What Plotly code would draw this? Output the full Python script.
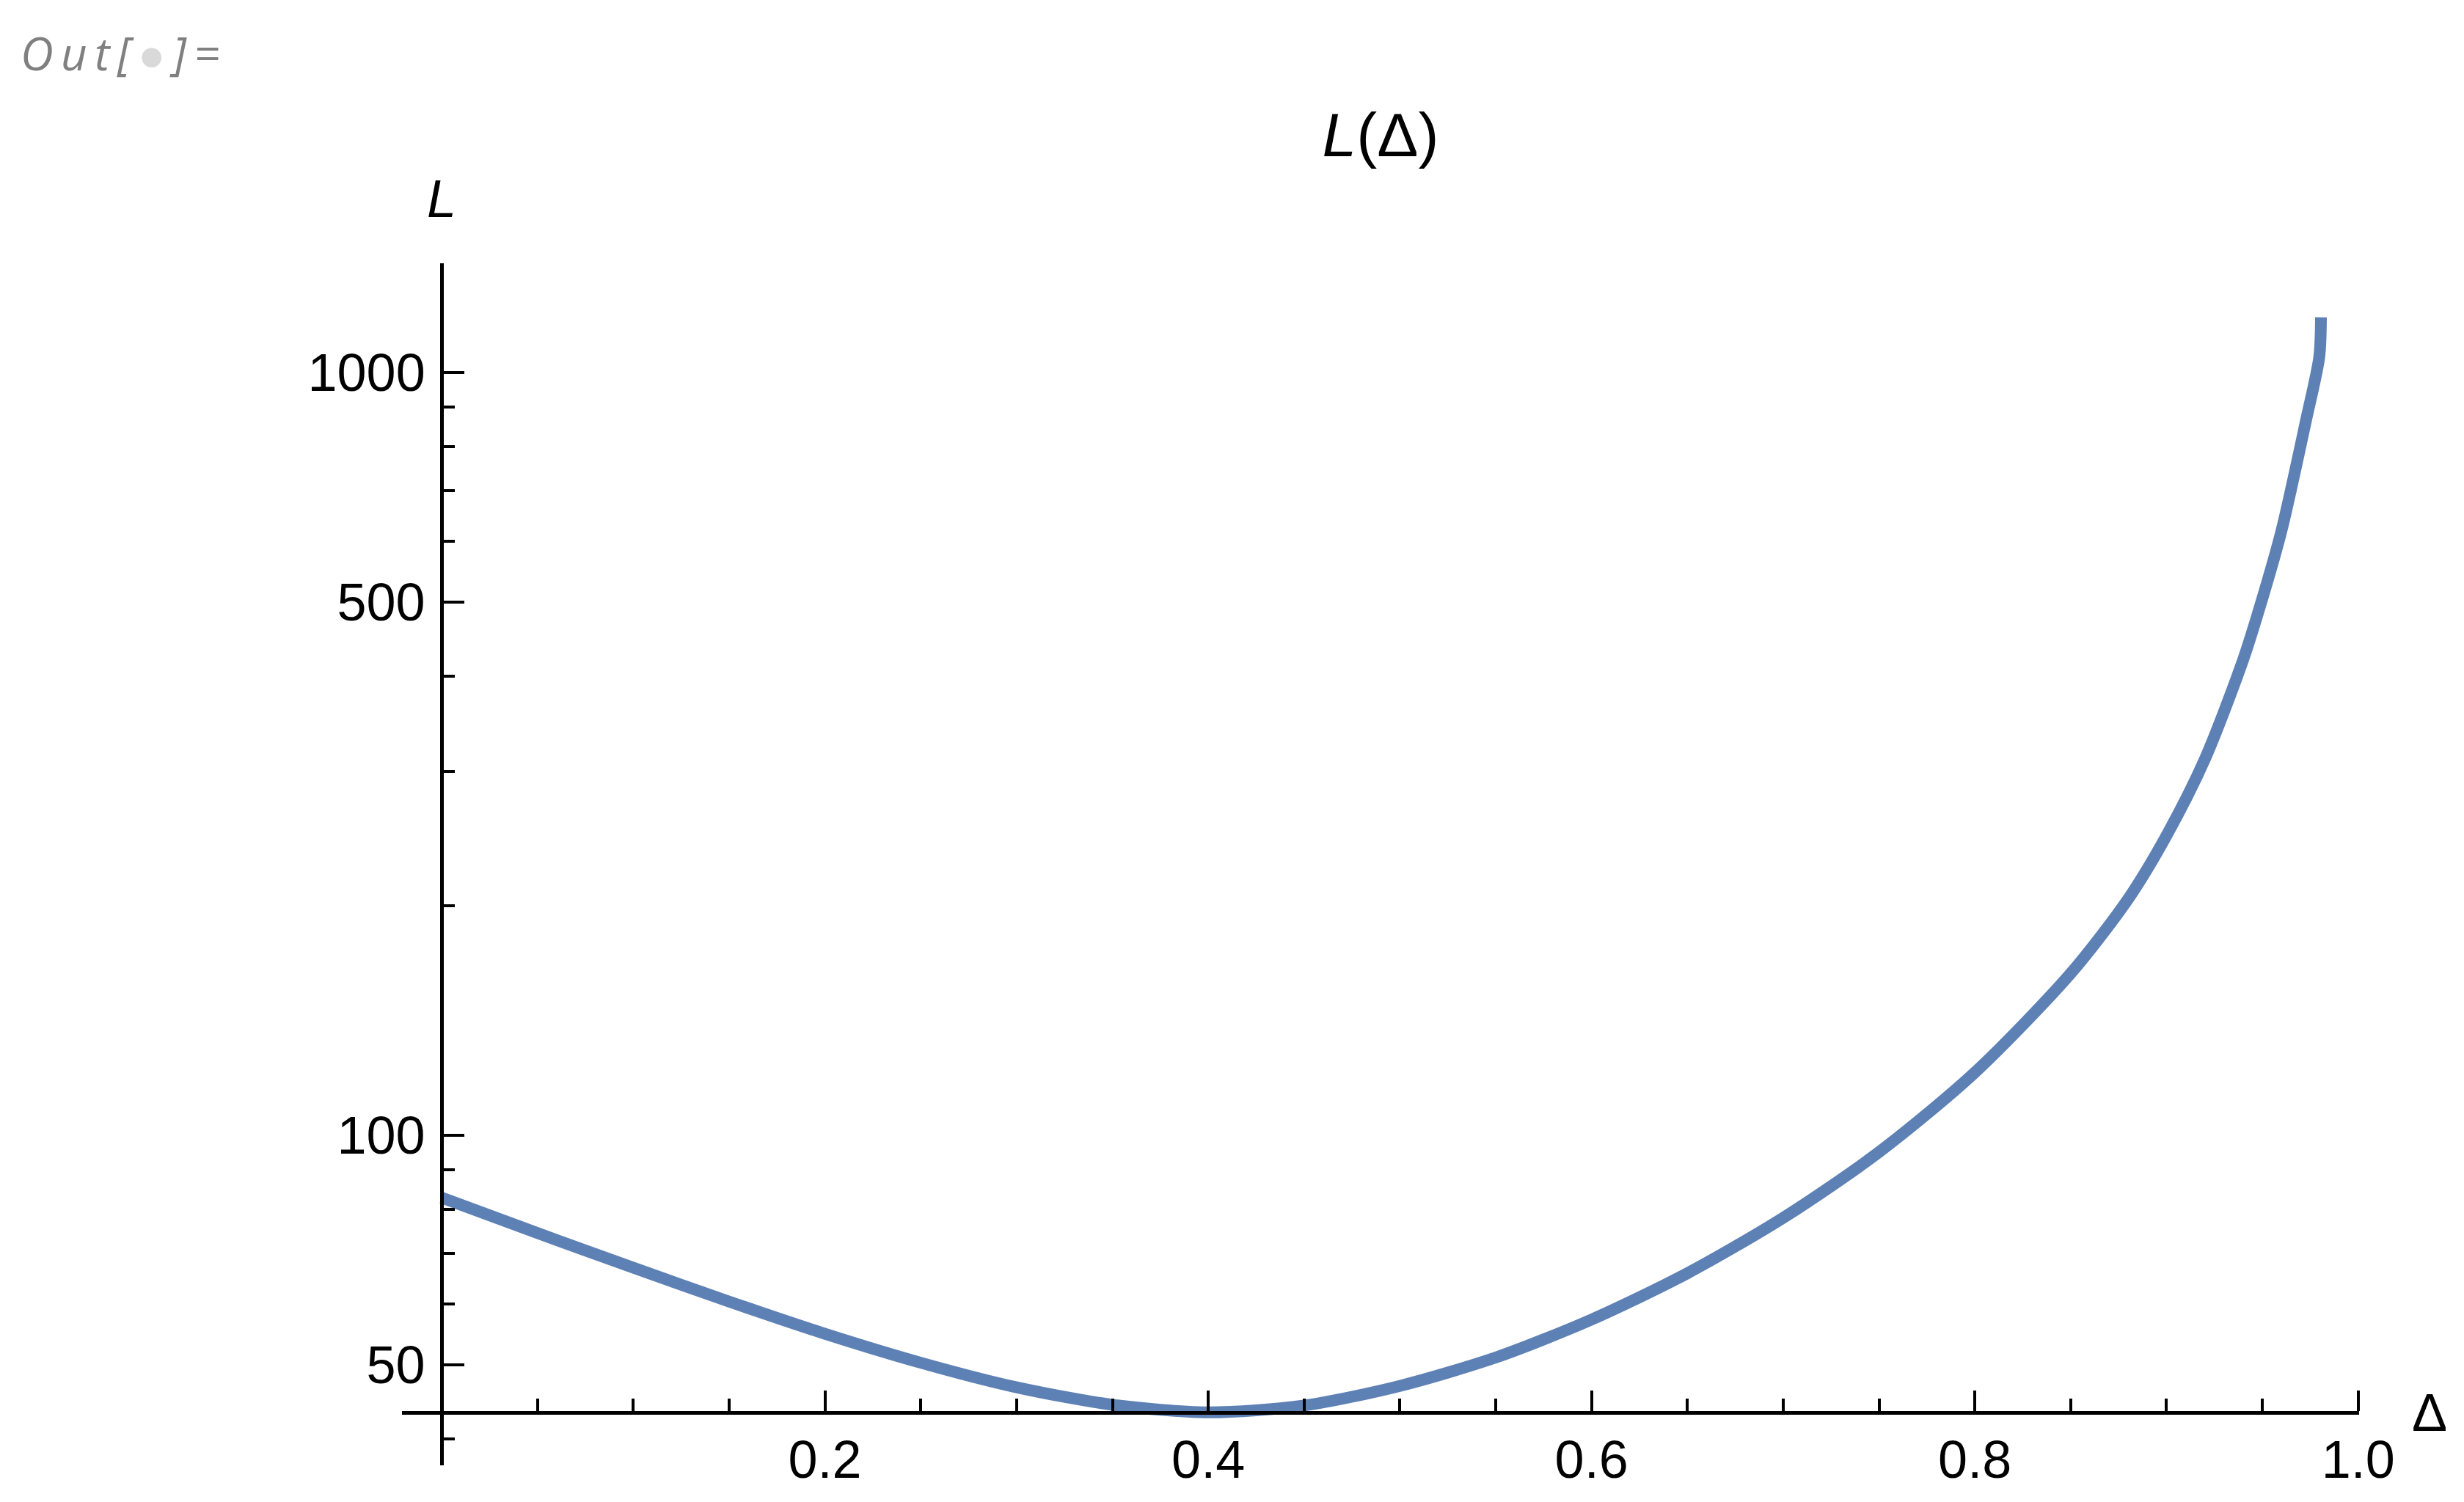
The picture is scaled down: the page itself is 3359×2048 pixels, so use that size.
import math
import plotly.graph_objects as go

# L(Δ) (log-scaled vertical axis)
delta = [0.0, 0.05, 0.1, 0.15, 0.2, 0.25, 0.3, 0.35, 0.4, 0.45, 0.5, 0.55,
         0.6, 0.65, 0.7, 0.75, 0.8, 0.85, 0.88, 0.9, 0.92, 0.94, 0.95, 0.96,
         0.9728, 0.9797, 0.9806]
L = [82.8, 74.4, 67.0, 60.5, 54.9, 50.3, 46.7, 44.3, 43.3, 44.2, 46.9, 51.1,
     57.3, 65.9, 77.9, 95.0, 120.8, 162.9, 204.0, 247.0, 311.0, 420.0, 505.0, 620.0,
     865.0, 1047.0, 1181.0]

x_major = [0.2, 0.4, 0.6, 0.8, 1.0]
x_major_text = ["0.2", "0.4", "0.6", "0.8", "1.0"]
x_minor = [0.05, 0.1, 0.15, 0.25, 0.3, 0.35, 0.45, 0.5, 0.55, 0.65, 0.7,
           0.75, 0.85, 0.9, 0.95]
y_major = [50, 100, 500, 1000]
y_major_text = ["50", "100", "500", "1000"]
y_minor = [40, 60, 70, 80, 90, 200, 300, 400, 600, 700, 800, 900]

X_RANGE = (-0.0207, 1.0005)
Y_RANGE = (36.9, 1390.0)
L_AXIS = 43.3   # the Δ axis crosses here

W, H = 3359, 2048
M = dict(l=540, r=151, t=351, b=58)
FONT = "Liberation Sans, Arial, sans-serif"
LINE = "#5E81B5"

y_lo, y_hi = math.log10(Y_RANGE[0]), math.log10(Y_RANGE[1])
x_axis_pos = (math.log10(L_AXIS) - y_lo) / (y_hi - y_lo)
y_axis_pos = (0 - X_RANGE[0]) / (X_RANGE[1] - X_RANGE[0])


def px_x(p):
    return (p - M["l"]) / (W - M["l"] - M["r"])


def px_y(p):
    return (H - M["b"] - p) / (H - M["t"] - M["b"])


fig = go.Figure()
fig.add_trace(go.Scatter(
    x=delta, y=L, mode="lines",
    line=dict(color=LINE, width=16, shape="spline", smoothing=0.8),
    hoverinfo="skip", showlegend=False,
))

axis_common = dict(
    showgrid=False, zeroline=False, showline=True, linecolor="black", linewidth=5,
    ticks="inside", tickcolor="black", tickwidth=4, ticklen=28,
    tickfont=dict(family=FONT, size=72, color="black"),
    automargin=False,
)
fig.update_xaxes(
    range=list(X_RANGE), anchor="free", position=x_axis_pos,
    tickmode="array", tickvals=x_major, ticktext=x_major_text,
    minor=dict(tickmode="array", tickvals=x_minor, ticks="inside", ticklen=17,
               tickwidth=4, tickcolor="black"),
    ticklabelstandoff=0, **axis_common,
)
fig.update_yaxes(
    type="log", range=[y_lo, y_hi], anchor="free", position=y_axis_pos,
    tickmode="array", tickvals=y_major, ticktext=y_major_text,
    minor=dict(tickmode="array", tickvals=y_minor, ticks="inside", ticklen=15,
               tickwidth=4, tickcolor="black"),
    ticklabelstandoff=6, **axis_common,
)

fig.update_layout(
    width=W, height=H, margin=M,
    paper_bgcolor="white", plot_bgcolor="white",
    title=dict(text="<i>L</i>(Δ)", x=0.5, xref="paper", y=1 - 176 / H,
               yref="container", yanchor="middle", xanchor="center",
               font=dict(family=FONT, size=84, color="black")),
    annotations=[
        dict(text="<i>L</i>", xref="x", x=0, yref="paper", y=px_y(263),
             showarrow=False, xanchor="center", yanchor="middle",
             font=dict(family=FONT, size=72, color="black")),
        dict(text="Δ", xref="paper", x=px_x(3304), yref="y", y=math.log10(L_AXIS),
             showarrow=False, xanchor="center", yanchor="middle",
             font=dict(family=FONT, size=72, color="black")),
        dict(text="<i>O\u2009u\u2009t\u2009[</i>\u2009<span style='color:#d9d9d9'>●</span>\u2009<i>]\u2009=</i>",
             xref="paper", x=px_x(18), yref="paper", y=px_y(64),
             showarrow=False, xanchor="left", yanchor="middle",
             font=dict(family="Open Sans, sans-serif", size=62, color="#808080")),
    ],
)

fig.write_html("out.html")
